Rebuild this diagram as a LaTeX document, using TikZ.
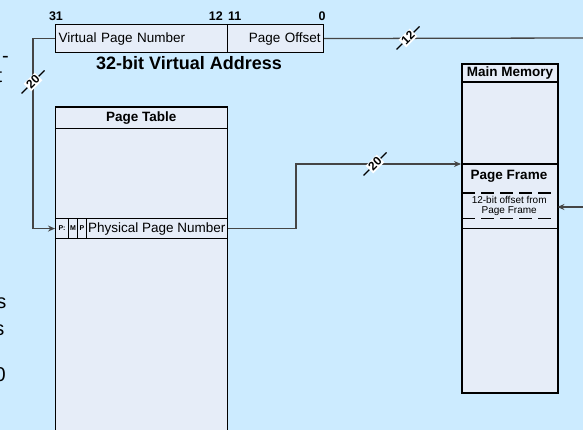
\documentclass[tikz,border=0pt]{standalone}
\usepackage{fontspec}
\setmainfont{Liberation Sans}
\usetikzlibrary{arrows.meta}
\definecolor{slidebg}{HTML}{CCEBFF}
\definecolor{boxfill}{HTML}{E6EDF8}
\definecolor{wire}{HTML}{454545}
\newcommand\fs[1]{\fontsize{#1}{#1}\selectfont}

\begin{document}
\begin{tikzpicture}[x=1pt,y=-1pt,
  cell/.style={draw=black, fill=boxfill, line width=1.1pt, inner sep=0pt, anchor=north west},
  memcell/.style={cell, line width=1.8pt},
  conn/.style={draw=wire, line width=1.3pt},
  tip/.style={-{Stealth[length=7pt,width=6pt]}},
  slash/.style={draw=black, line width=1.2pt},
  busnum/.style={fill=white, rotate=45, font=\fs{12}\bfseries, inner sep=1.2pt},
  bitnum/.style={font=\fs{12.5}\bfseries, inner sep=0pt},
  title/.style={font=\fs{13.5}\bfseries},
  body/.style={font=\fs{13.5}},
  cut/.style={font=\fs{20}, inner sep=0pt, anchor=base east}
]
\useasboundingbox (0,0) rectangle (583,430);
\fill[slidebg] (0,0) rectangle (583,430);
\clip (0,0) rectangle (583,430);

% text running in from the left margin
\node[cut] (c1) at (9,62.4) {-};
\node[cut] (c2) at (2.5,83) {t};
\node[cut] (c3) at (6.5,308) {s};
\node[cut] (c4) at (4.5,335) {s};
\node[cut] (c5) at (6,381) {0};

% 32-bit virtual address
\node[cell, body, minimum height=28pt, text width=165.5pt, inner xsep=3pt, align=left] (vpn) at (55,24) {Virtual Page Number};
\node[cell, body, minimum height=28pt, text width=90.5pt, inner xsep=3pt, align=right] (po) at (226.5,24) {Page Offset};
\node[bitnum, anchor=base] (b31) at (56,21) {31};
\node[bitnum, anchor=base east] (b12) at (223,21) {12};
\node[bitnum, anchor=base west] (b11) at (228,21) {11};
\node[bitnum, anchor=base] (b0) at (322,21) {0};
\node[font=\fs{18}\bfseries, anchor=base] (vacap) at (189,70) {32-bit Virtual Address};

% page table
\node[cell, title, minimum height=21.5pt, minimum width=171.5pt] (pthead) at (55,106.5) {Page Table};
\node[cell, minimum height=330pt, minimum width=171.5pt] (ptbody) at (55,128) {};
\node[cell, font=\fs{7}\bfseries, minimum width=13pt, minimum height=20pt] (fp) at (55,218) {P:};
\node[cell, font=\fs{7}\bfseries, minimum width=9pt, minimum height=20pt] (fm) at (68,218) {M};
\node[cell, font=\fs{7}\bfseries, minimum width=9pt, minimum height=20pt] (fq) at (77,218) {P};
\node[cell, body, minimum width=140.5pt, minimum height=20pt] (ppn) at (86,218) {Physical Page Number};

% main memory
\node[memcell, title, minimum height=18pt, minimum width=96pt] (mmhead) at (461,63) {Main Memory};
\node[memcell, minimum height=311pt, minimum width=96pt] (mmbody) at (461,81) {};
\node[anchor=north west, minimum width=96pt, minimum height=64pt, inner sep=0pt] (pf) at (461,164) {};
\draw[line width=1.3pt] (pf.north west) -- (pf.north east);
\draw[line width=1.3pt] (pf.south west) -- (pf.south east);
\node[title, anchor=base] (pftitle) at (509,179.3) {Page Frame};
\node[anchor=north west, minimum width=96pt, minimum height=25pt, inner sep=0pt, align=center, font=\fs{10}] (off) at (461,193) {12-bit offset from\\Page Frame};
\draw[line width=1.3pt, dash pattern=on 12.5pt off 6.5pt, dash phase=-1pt] (off.north west) -- (off.north east);
\draw[line width=1.3pt, dash pattern=on 12.5pt off 6.5pt, dash phase=-1pt] (off.south west) -- (off.south east);

% connectors
\coordinate (tr) at (583,38);
\coordinate (rr) at (583,207);
\draw[conn, tip] (vpn.west) -- ++(-22,0) |- (fp.west);
\draw[conn, tip] (ppn.east) -- ++(68.5,0) |- (pf.north west);
\draw[conn] (po.east) -- (tr);
\draw[conn, tip] (rr) -- (rr -| off.east);

% bus width marks
\coordinate (m1) at (33,82);
\coordinate (m2) at (375,164);
\coordinate (m3) at (408,38);
\draw[slash] (m1) ++(-11.5,11.5) -- ++(23,-23);
\draw[slash] (m2) ++(-11.5,11.5) -- ++(23,-23);
\draw[slash] (m3) ++(-11.5,11.5) -- ++(23,-23);
\node[busnum] (w1) at (m1) {20};
\node[busnum] (w2) at (m2) {20};
\node[busnum] (w3) at (m3) {12};
\end{tikzpicture}
\end{document}
